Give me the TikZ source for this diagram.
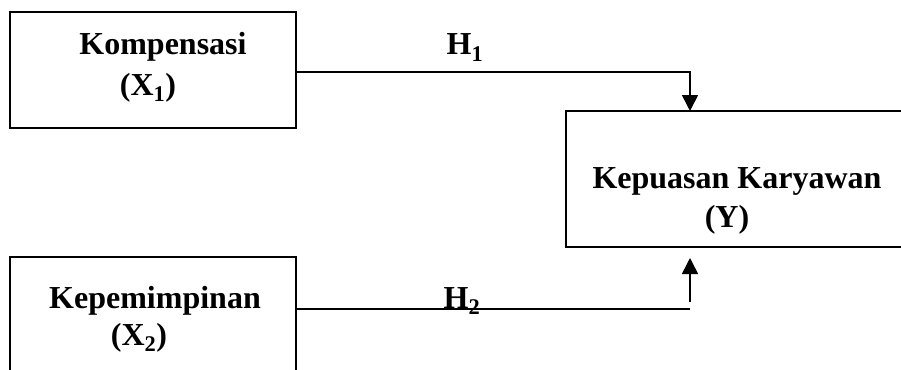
\documentclass[tikz,border=0pt]{standalone}
\usepackage{fontspec}
\setmainfont{Liberation Serif}
\usepackage{tikz}
\usetikzlibrary{arrows.meta}

\tikzset{
  varbox/.style={draw,line width=1.6pt,rectangle,inner sep=0pt},
  lbl/.style={font=\fontsize{32}{40}\selectfont\bfseries,anchor=base,inner sep=0pt},
  link/.style={line width=1.6pt},
  arr/.style={line width=1.6pt,-{Triangle[length=16pt,width=16pt]}}
}

\begin{document}
\begin{tikzpicture}[x=1pt,y=-1pt]
    \useasboundingbox (0,0) rectangle (901,369);
    \begin{scope}
      \clip (0,0) rectangle (901,369);
      \node[varbox,minimum width=286pt,minimum height=116pt] (x1) at (153,70) {};
      \node[varbox,minimum width=286pt,minimum height=116pt] (x2) at (153,315) {};
      \node[varbox,minimum width=354pt,minimum height=136pt] (y) at (743,179) {};
    \end{scope}
    \node[lbl] (x1a) at (163,55) {Kompensasi};
    \node[lbl] (x1b) at (148,95) {(X\textsubscript{1})};
    \node[lbl] (x2a) at (155,308) {Kepemimpinan};
    \node[lbl] (x2b) at (139,345) {(X\textsubscript{2})};
    \node[lbl] (ya) at (737,188) {Kepuasan Karyawan};
    \node[lbl] (yb) at (727,227) {(Y)};
    \node[lbl] (h1) at (465,55) {H\textsubscript{1}};
    \node[lbl] (h2) at (462,308) {H\textsubscript{2}};
    \coordinate (tip1) at (690,111);
    \coordinate (end2) at (690,309);
    \coordinate (tail2) at (690,302);
    \coordinate (tip2) at (690,258);
    \draw[arr] (x1.east |- 0,72) -| (tip1);
    \draw[link] (x2.east |- end2) -- (end2);
    \draw[arr] (tail2) -- (tip2);
\end{tikzpicture}
\end{document}
